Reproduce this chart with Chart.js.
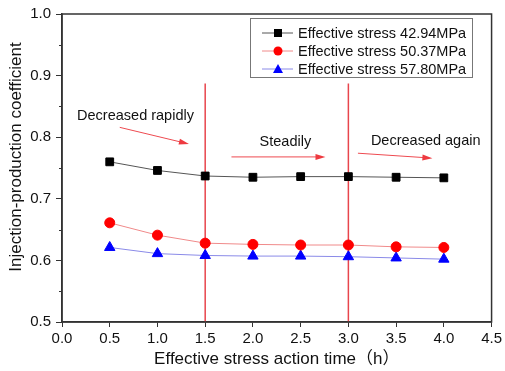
<!DOCTYPE html>
<html>
<head>
<meta charset="utf-8">
<script src="https://cdn.jsdelivr.net/npm/chart.js@4/dist/chart.umd.min.js"></script>
<style>
  html, body { margin: 0; padding: 0; background: #fff; }
  #wrap { width: 505px; height: 371px; }
</style>
</head>
<body>
<div id="wrap"><canvas id="chart"></canvas></div>
<script>
const FONT = 'Arial, "Liberation Sans", "Noto Sans CJK SC", sans-serif';

// data
const times = [0.5, 1.0, 1.5, 2.0, 2.5, 3.0, 3.5, 4.0];
const stress4294 = [0.760, 0.746, 0.737, 0.735, 0.736, 0.736, 0.735, 0.734];
const stress5037 = [0.661, 0.641, 0.628, 0.626, 0.625, 0.625, 0.622, 0.621];
const stress5780 = [0.621, 0.611, 0.608, 0.607, 0.607, 0.606, 0.604, 0.602];
const seriesNames = ['Effective stress 42.94MPa', 'Effective stress 50.37MPa', 'Effective stress 57.80MPa'];

// stage boundaries (vertical red lines) and the notes between them
const stageLines = [1.5, 3.0];
const stageLineTop = 0.887;
const notes = [
    { text: 'Decreased rapidly', x: 0.77, y: 0.834, from: [0.605, 0.816], to: [1.33, 0.789] },
    { text: 'Steadily', x: 2.34, y: 0.792, from: [1.775, 0.768], to: [2.76, 0.768] },
    { text: 'Decreased again', x: 3.81, y: 0.794, from: [3.10, 0.774], to: [3.88, 0.766] }
];

const pts = (ys) => times.map((t, i) => ({ x: t, y: ys[i] }));

const lineDatasets = stageLines.map(x => ({
    data: [{ x: x, y: 0.5 }, { x: x, y: stageLineTop }],
    showLine: true,
    borderColor: '#e8454c',
    borderWidth: 1.5,
    pointRadius: 0,
    isStage: true
}));

const overlay = {
    id: 'overlay',
    afterDatasetsDraw(chart) {
        const { ctx, chartArea: a, scales: { x, y } } = chart;
        ctx.save();
        // frame
        ctx.strokeStyle = '#333';
        ctx.lineWidth = 1.5;
        ctx.strokeRect(a.left, a.top, a.right - a.left, a.bottom - a.top);

        // minor y ticks
        ctx.lineWidth = 1;
        for (let v = 0.55; v < 1.0; v += 0.1) {
            const py = Math.round(y.getPixelForValue(v)) + 0.5;
            ctx.beginPath();
            ctx.moveTo(a.left - 3, py);
            ctx.lineTo(a.left, py);
            ctx.stroke();
        }

        // notes with arrows
        ctx.font = '14.5px ' + FONT;
        ctx.fillStyle = '#111';
        ctx.textAlign = 'center';
        ctx.textBaseline = 'middle';
        notes.forEach(n => {
            ctx.fillText(n.text, x.getPixelForValue(n.x), y.getPixelForValue(n.y));
            const x1 = x.getPixelForValue(n.from[0]), y1 = y.getPixelForValue(n.from[1]);
            const x2 = x.getPixelForValue(n.to[0]), y2 = y.getPixelForValue(n.to[1]);
            const ang = Math.atan2(y2 - y1, x2 - x1);
            ctx.strokeStyle = '#ee4a50';
            ctx.fillStyle = '#ee3a40';
            ctx.lineWidth = 1;
            ctx.beginPath();
            ctx.moveTo(x1, y1);
            ctx.lineTo(x2 - 6 * Math.cos(ang), y2 - 6 * Math.sin(ang));
            ctx.stroke();
            ctx.beginPath();
            ctx.moveTo(x2, y2);
            ctx.lineTo(x2 - 10 * Math.cos(ang) + 3 * Math.sin(ang), y2 - 10 * Math.sin(ang) - 3 * Math.cos(ang));
            ctx.lineTo(x2 - 10 * Math.cos(ang) - 3 * Math.sin(ang), y2 - 10 * Math.sin(ang) + 3 * Math.cos(ang));
            ctx.closePath();
            ctx.fill();
            ctx.fillStyle = '#111';
        });

        // y axis title
        ctx.save();
        ctx.translate(16, 157);
        ctx.rotate(-Math.PI / 2);
        ctx.font = '17px ' + FONT;
        ctx.fillStyle = '#111';
        ctx.fillText('Injection-production coefficient', 0, 0);
        ctx.restore();

        // legend
        const lx = 250, ly = 18, lw = 222, lh = 59;
        ctx.fillStyle = '#fff';
        ctx.fillRect(lx, ly, lw, lh);
        ctx.strokeStyle = '#777';
        ctx.lineWidth = 1;
        ctx.strokeRect(lx + 0.5, ly + 0.5, lw, lh);
        ctx.font = '14.5px ' + FONT;
        ctx.textAlign = 'left';
        chart.data.datasets.filter(d => !d.isStage).forEach((d, i) => {
            const ry = ly + 15 + i * 18;
            ctx.strokeStyle = d.borderColor;
            ctx.lineWidth = 1;
            ctx.beginPath();
            ctx.moveTo(lx + 12, ry);
            ctx.lineTo(lx + 43, ry);
            ctx.stroke();
            ctx.fillStyle = d.pointBackgroundColor;
            const mx = lx + 28;
            ctx.beginPath();
            if (d.pointStyle === 'rect') ctx.rect(mx - 4, ry - 4, 8, 8);
            else if (d.pointStyle === 'circle') ctx.arc(mx, ry, 4.5, 0, Math.PI * 2);
            else { ctx.moveTo(mx, ry - 5); ctx.lineTo(mx + 5, ry + 4); ctx.lineTo(mx - 5, ry + 4); ctx.closePath(); }
            ctx.fill();
            ctx.fillStyle = '#111';
            ctx.fillText(d.label, lx + 48, ry + 1);
        });
        ctx.restore();
    }
};

new Chart(document.getElementById('chart'), {
    type: 'scatter',
    data: {
        datasets: [
            {
                label: seriesNames[0], data: pts(stress4294), showLine: true,
                borderColor: '#555', borderWidth: 1,
                pointStyle: 'rect', pointRadius: 5.5, pointBackgroundColor: '#000', pointBorderColor: '#000'
            },
            {
                label: seriesNames[1], data: pts(stress5037), showLine: true,
                borderColor: '#f08a8a', borderWidth: 1,
                pointStyle: 'circle', pointRadius: 5, pointBackgroundColor: '#f00', pointBorderColor: '#f00'
            },
            {
                label: seriesNames[2], data: pts(stress5780), showLine: true,
                borderColor: '#8a8ae8', borderWidth: 1,
                pointStyle: 'triangle', pointRadius: 6, pointBackgroundColor: '#00f', pointBorderColor: '#00f'
            },
            ...lineDatasets
        ]
    },
    options: {
        responsive: true,
        maintainAspectRatio: false,
        animation: false,
        layout: { padding: { top: 12, right: 13, left: 0, bottom: 0 } },
        plugins: { legend: { display: false }, tooltip: { enabled: false } },
        scales: {
            x: {
                type: 'linear', min: 0, max: 4.5,
                afterFit(s) { s.height = 49; },
                ticks: {
                    stepSize: 0.5, color: '#111', padding: 3,
                    font: { family: FONT, size: 15 },
                    callback: v => v.toFixed(1)
                },
                grid: { drawOnChartArea: false, color: '#333', tickLength: 5 },
                border: { color: '#333', width: 1.5 },
                title: {
                    display: true, text: 'Effective stress action time（h）', color: '#111',
                    font: { family: FONT, size: 17 }, padding: { top: 0, bottom: 1 }
                }
            },
            y: {
                min: 0.5, max: 1.0,
                afterFit(s) { s.width = 62; },
                ticks: {
                    stepSize: 0.1, color: '#111', padding: 5,
                    font: { family: FONT, size: 15 },
                    callback: v => v.toFixed(1)
                },
                grid: { drawOnChartArea: false, color: '#333', tickLength: 6 },
                border: { color: '#333', width: 1.5 }
            }
        }
    },
    plugins: [overlay]
});
</script>
</body>
</html>
